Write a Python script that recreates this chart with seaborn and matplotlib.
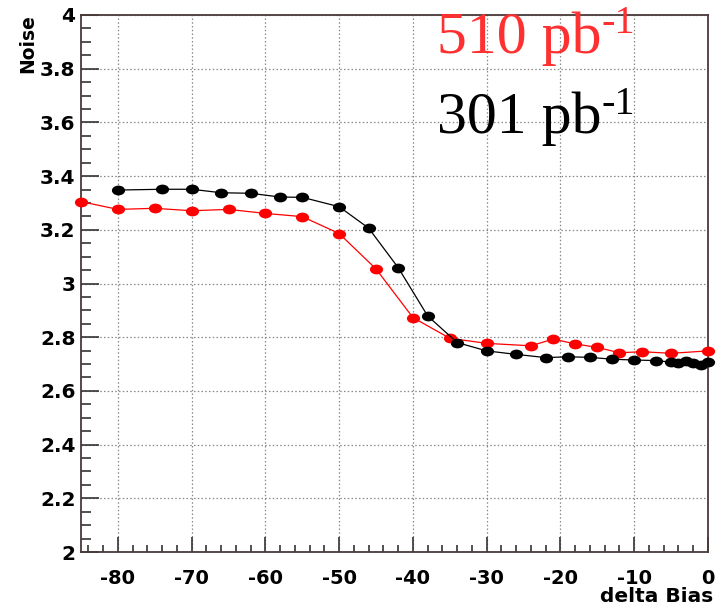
import numpy as np
import pandas as pd
import matplotlib
matplotlib.use("Agg")
import matplotlib.pyplot as plt
import seaborn as sns
from matplotlib.path import Path
from matplotlib.ticker import MultipleLocator, FuncFormatter

# ---------------- data ----------------
black_x = [-80, -74, -70, -66, -62, -58, -55, -50, -46, -42, -38, -34, -30,
           -26, -22, -19, -16, -13, -10, -7, -5, -4, -3, -2, -1, 0]
black_y = [3.348, 3.351, 3.351, 3.338, 3.336, 3.322, 3.321, 3.286, 3.206,
           3.059, 2.879, 2.780, 2.749, 2.736, 2.724, 2.727, 2.725, 2.718,
           2.715, 2.713, 2.707, 2.703, 2.711, 2.703, 2.696, 2.709]

red_x = [-85, -80, -75, -70, -65, -60, -55, -50, -45, -40, -35, -30, -24,
         -21, -18, -15, -12, -9, -5, 0]
red_y = [3.305, 3.276, 3.280, 3.271, 3.276, 3.261, 3.249, 3.186, 3.054,
         2.873, 2.796, 2.777, 2.768, 2.793, 2.775, 2.762, 2.742, 2.746,
         2.740, 2.749]

label_red = "510 pb"
label_black = "301 pb"
sup_text = "-1"
x_label = "delta Bias"
y_label = "Noise"

# ---------------- style ----------------
sns.set_style("white")
plt.rcParams["font.family"] = ["DejaVu Sans"]
plt.rcParams["text.color"] = "black"

W, H = 716, 605
fig = plt.figure(figsize=(W / 100, H / 100), dpi=100)
ax = fig.add_axes([81 / W, 1 - 552 / H, (708 - 81) / W, (552 - 15) / H])

circ = Path.unit_circle()
ell = Path(circ.vertices * np.array([1.35, 1.0]), circ.codes)

df_red = pd.DataFrame({"x": red_x, "y": red_y})
df_black = pd.DataFrame({"x": black_x, "y": black_y})

sns.lineplot(data=df_red, x="x", y="y", ax=ax, color="#ff0000", lw=0.9,
             marker=ell, markersize=9.5, markeredgewidth=0,
             sort=False, estimator=None, clip_on=False, zorder=3)
sns.lineplot(data=df_black, x="x", y="y", ax=ax, color="#000000", lw=0.9,
             marker=ell, markersize=9.5, markeredgewidth=0,
             sort=False, estimator=None, clip_on=False, zorder=4)

ax.set_xlim(-85, 0)
ax.set_ylim(2, 4)
ax.set_xlabel("")
ax.set_ylabel("")

ax.xaxis.set_major_locator(MultipleLocator(10))
ax.xaxis.set_minor_locator(MultipleLocator(2))
ax.yaxis.set_major_locator(MultipleLocator(0.2))
ax.yaxis.set_minor_locator(MultipleLocator(0.05))
fmt = FuncFormatter(lambda v, p: f"{round(v, 3) + 0:g}")
ax.xaxis.set_major_formatter(fmt)
ax.yaxis.set_major_formatter(fmt)

tick_col = "#333333"
ax.tick_params(axis="x", which="both", bottom=True, top=False)
ax.tick_params(axis="y", which="both", left=True, right=False)
ax.tick_params(axis="x", which="major", direction="in", length=11, width=1.2,
               color=tick_col, pad=12, labelsize=14, labelcolor="black")
ax.tick_params(axis="x", which="minor", direction="in", length=5, width=1.2,
               color=tick_col)
ax.tick_params(axis="y", which="major", direction="in", length=13, width=1.2,
               color=tick_col, pad=4, labelsize=14.5, labelcolor="black")
ax.tick_params(axis="y", which="minor", direction="in", length=7, width=1.2,
               color=tick_col)
for lab in ax.get_xticklabels() + ax.get_yticklabels():
    lab.set_fontweight("bold")

ax.grid(True, which="major", color="#888888", linestyle=(0, (1.2, 1.8)),
        linewidth=0.9)
ax.set_axisbelow(True)

for s in ax.spines.values():
    s.set_color("#4a3a3a")
    s.set_linewidth(1.3)
    s.set_visible(True)

fig.text(713 / W, 1 - 602 / H, x_label, ha="right", va="baseline",
         fontsize=14.5, fontweight="bold", color="black")
fig.text(28 / W, 1 - 14 / H, y_label, ha="center", va="top", rotation=90,
         fontsize=13.5, fontweight="bold", color="black")

# legend-like annotations with superscripts
serif = ["Liberation Serif", "DejaVu Serif"]
t_red = fig.text(437 / W, 1 - 53 / H, label_red, color="#ff3030",
                 fontsize=43, family=serif, ha="left", va="baseline")
t_blk = fig.text(437 / W, 1 - 133 / H, label_black, color="#000000",
                 fontsize=43, family=serif, ha="left", va="baseline")
fig.canvas.draw()
r = fig.canvas.get_renderer()
for t, base, col in [(t_red, 33, "#ff3030"), (t_blk, 114, "#000000")]:
    bb = t.get_window_extent(renderer=r)
    fig.text(bb.x1 / W, 1 - base / H, sup_text, color=col, fontsize=29,
             family=serif, ha="left", va="baseline")

fig.savefig("out.png", dpi=100)
